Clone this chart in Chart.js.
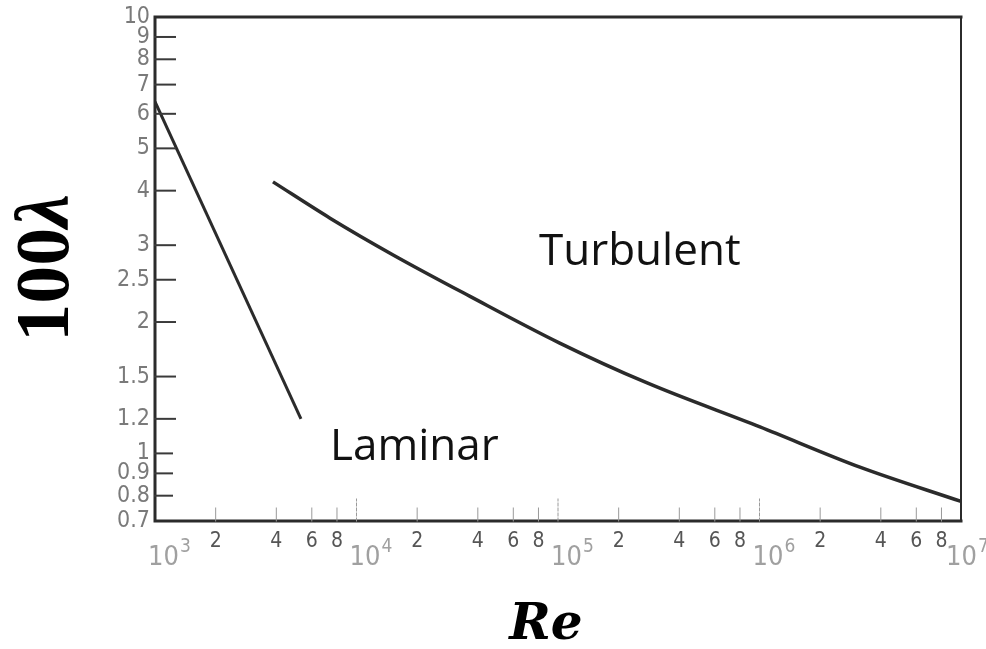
<!DOCTYPE html>
<html>
<head>
<meta charset="utf-8">
<script src="https://cdn.jsdelivr.net/npm/chart.js@4.4.1/dist/chart.umd.min.js"></script>
<style>
  html, body { margin: 0; padding: 0; background: #ffffff; }
  #wrap { width: 986px; height: 649px; }
</style>
</head>
<body>
<div id="wrap"><canvas id="c" width="986" height="649"></canvas></div>
<script>
// Friction factor (100·λ) against Reynolds number, log–log
const laminarRe  = [1000, 5300];
const laminarVal = [6.4, 1.2];

const turbulentRe  = [3850, 7390, 15200, 36600, 102000, 277000, 1005000, 3150000, 10000000];
const turbulentVal = [4.19, 3.46, 2.85, 2.29, 1.79, 1.45, 1.15, 0.93, 0.776];

const yTickValues = [10, 9, 8, 7, 6, 5, 4, 3, 2.5, 2, 1.5, 1.2, 1, 0.9, 0.8, 0.7];
const yTickLabels = ['10', '9', '8', '7', '6', '5', '4', '3', '2.5', '2', '1.5', '1.2', '1', '0.9', '0.8', '0.7'];

const xMinorValues = [2000, 4000, 6000, 8000, 20000, 40000, 60000, 80000,
                      200000, 400000, 600000, 800000, 2000000, 4000000, 6000000, 8000000];
const xMinorLabels = ['2', '4', '6', '8', '2', '4', '6', '8', '2', '4', '6', '8', '2', '4', '6', '8'];
const xDecadeValues = [1e3, 1e4, 1e5, 1e6, 1e7];
const xDecadeExps   = ['3', '4', '5', '6', '7'];

const ink = '#2b2b2b';
const tickFont = '"Liberation Sans Narrow", "DejaVu Sans Condensed", sans-serif';

const frameAndLabels = {
  id: 'frameAndLabels',
  afterDraw(chart) {
    const { ctx, chartArea: a, scales: { x, y } } = chart;
    ctx.save();

    // plot frame
    ctx.strokeStyle = ink;
    ctx.lineCap = 'square';
    ctx.lineWidth = 3;
    ctx.beginPath();
    ctx.moveTo(a.right, a.top); ctx.lineTo(a.left, a.top);
    ctx.lineTo(a.left, a.bottom); ctx.lineTo(a.right, a.bottom);
    ctx.stroke();
    ctx.lineWidth = 2;
    ctx.beginPath();
    ctx.moveTo(a.right, a.top); ctx.lineTo(a.right, a.bottom);
    ctx.stroke();

    // y ticks (inside) and labels
    ctx.lineWidth = 2;
    ctx.strokeStyle = '#3a3a3a';
    ctx.fillStyle = '#7a7a7a';
    ctx.font = '23px ' + tickFont;
    ctx.textAlign = 'right';
    ctx.textBaseline = 'middle';
    yTickValues.forEach((v, i) => {
      const py = y.getPixelForValue(v);
      if (v < 10 && v > 0.7) {
        const len = v < 1.2 ? 17 : 20;
        ctx.beginPath();
        ctx.moveTo(a.left, py); ctx.lineTo(a.left + len, py);
        ctx.stroke();
      }
      ctx.fillText(yTickLabels[i], a.left - 5, py);
    });

    // x ticks (inside) and labels
    ctx.lineWidth = 1;
    ctx.strokeStyle = '#9a9a9a';
    ctx.fillStyle = '#555';
    ctx.font = '21px ' + tickFont;
    ctx.textAlign = 'center';
    xMinorValues.forEach((v, i) => {
      const px = x.getPixelForValue(v);
      ctx.beginPath();
      ctx.moveTo(px, a.bottom); ctx.lineTo(px, a.bottom - 13);
      ctx.stroke();
      ctx.fillText(xMinorLabels[i], px, a.bottom + 21);
    });
    ctx.setLineDash([3, 2]);
    xDecadeValues.forEach((v) => {
      if (v === 1e3 || v === 1e7) return;
      const px = x.getPixelForValue(v);
      ctx.beginPath();
      ctx.moveTo(px, a.bottom); ctx.lineTo(px, a.bottom - 22);
      ctx.stroke();
    });
    ctx.setLineDash([]);
    ctx.fillStyle = '#a0a0a0';
    ctx.textAlign = 'left';
    xDecadeValues.forEach((v, i) => {
      const px = x.getPixelForValue(v);
      const left = v === 1e7 ? px - 15 : px - 7;
      ctx.font = '27px ' + tickFont;
      ctx.fillText('10', left, a.bottom + 37);
      const w = ctx.measureText('10').width;
      ctx.font = '19px ' + tickFont;
      ctx.fillText(xDecadeExps[i], left + w + 1, a.bottom + 26);
    });

    // region annotations
    ctx.fillStyle = '#111';
    ctx.textBaseline = 'alphabetic';
    ctx.textAlign = 'left';
    ctx.font = '44px "Open Sans", "Noto Sans", sans-serif';
    ctx.fillText('Turbulent', 539, 265);
    ctx.fillText('Laminar', 330, 460);

    // axis titles
    ctx.fillStyle = '#000';
    ctx.textAlign = 'center';
    ctx.font = 'bold italic 50px "DejaVu Serif", serif';
    ctx.fillText('Re', 546, 639);

    ctx.translate(68, 268);
    ctx.rotate(-Math.PI / 2);
    const upright = 'bold 76px "Liberation Serif", serif';
    const slanted = 'bold italic 76px "Liberation Serif", serif';
    ctx.font = upright;
    const w1 = ctx.measureText('100').width;
    ctx.font = slanted;
    const w2 = ctx.measureText('λ').width;
    ctx.textAlign = 'left';
    const start = -(w1 + w2) / 2;
    ctx.font = upright;
    ctx.fillText('100', start, 0);
    ctx.font = slanted;
    ctx.fillText('λ', start + w1, 0);

    ctx.restore();
  }
};

new Chart(document.getElementById('c'), {
  type: 'line',
  data: {
    datasets: [
      {
        label: 'Laminar',
        data: laminarRe.map((r, i) => ({ x: r, y: laminarVal[i] })),
        borderColor: ink,
        borderWidth: 3,
        pointRadius: 0,
        tension: 0
      },
      {
        label: 'Turbulent',
        data: turbulentRe.map((r, i) => ({ x: r, y: turbulentVal[i] })),
        borderColor: ink,
        borderWidth: 3.5,
        pointRadius: 0,
        cubicInterpolationMode: 'monotone'
      }
    ]
  },
  options: {
    responsive: false,
    devicePixelRatio: 1,
    animation: false,
    layout: { padding: { left: 155, right: 25, top: 17, bottom: 128 } },
    plugins: { legend: { display: false }, tooltip: { enabled: false } },
    scales: {
      x: { type: 'logarithmic', min: 1000, max: 10000000, display: false },
      y: { type: 'logarithmic', min: 0.7, max: 10, display: false }
    }
  },
  plugins: [frameAndLabels]
});
</script>
</body>
</html>
